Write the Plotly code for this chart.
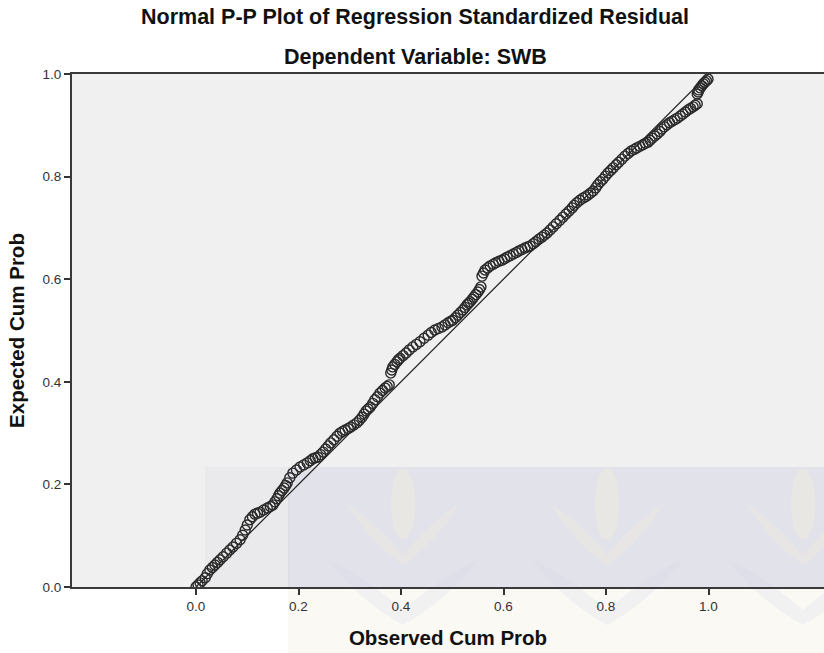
import plotly.graph_objects as go

# Observed cumulative probability (x) and expected cumulative probability (y)
observed = [
    0.000, 0.004, 0.008, 0.012, 0.018, 0.022, 0.027, 0.032, 0.037, 0.042,
    0.047, 0.053, 0.060, 0.066, 0.072, 0.079, 0.086, 0.091, 0.096, 0.100,
    0.105, 0.110, 0.115, 0.120, 0.125, 0.132, 0.139, 0.145, 0.150, 0.154,
    0.158, 0.161, 0.164, 0.168, 0.172, 0.175, 0.178, 0.183, 0.189, 0.196,
    0.203, 0.210, 0.217, 0.223, 0.228, 0.233, 0.238, 0.243, 0.248, 0.253,
    0.258, 0.263, 0.269, 0.275, 0.281, 0.286, 0.291, 0.297, 0.302, 0.308,
    0.314, 0.319, 0.324, 0.328, 0.332, 0.336, 0.340, 0.345, 0.349, 0.354,
    0.359, 0.364, 0.369, 0.373, 0.377,
    0.380, 0.382, 0.384, 0.388, 0.392, 0.395, 0.398, 0.404, 0.410, 0.416,
    0.423, 0.430, 0.437, 0.445, 0.453, 0.459, 0.466, 0.473, 0.480, 0.486,
    0.492, 0.497, 0.501, 0.506, 0.511, 0.516, 0.521, 0.525, 0.529, 0.532,
    0.535, 0.539, 0.542, 0.546, 0.550, 0.553, 0.556,
    0.558, 0.561, 0.564, 0.569, 0.574, 0.580, 0.585, 0.591, 0.597, 0.602,
    0.607, 0.613, 0.619, 0.625, 0.630, 0.636, 0.642, 0.647, 0.652, 0.658,
    0.663, 0.669, 0.675, 0.680, 0.685, 0.691, 0.697, 0.703, 0.710, 0.716,
    0.722, 0.728, 0.734, 0.738, 0.743, 0.749, 0.755, 0.760, 0.765, 0.770,
    0.775, 0.780, 0.784, 0.789, 0.794, 0.799, 0.804, 0.809, 0.814, 0.820,
    0.825, 0.831, 0.837, 0.843, 0.849, 0.855, 0.860, 0.866, 0.872, 0.877,
    0.882, 0.886, 0.890, 0.895, 0.900, 0.905, 0.909, 0.914, 0.919, 0.924,
    0.929, 0.934, 0.939, 0.945, 0.950, 0.955, 0.960, 0.965, 0.970, 0.974,
    0.978,
    0.978, 0.980, 0.981, 0.984, 0.987, 0.990, 0.993, 0.996, 0.999]
expected = [
    0.000, 0.004, 0.008, 0.012, 0.018, 0.026, 0.033, 0.038, 0.043, 0.048,
    0.053, 0.059, 0.066, 0.072, 0.078, 0.085, 0.092, 0.101, 0.111, 0.121,
    0.131, 0.137, 0.142, 0.144, 0.146, 0.150, 0.154, 0.157, 0.160, 0.166,
    0.172, 0.178, 0.183, 0.188, 0.193, 0.198, 0.203, 0.213, 0.222, 0.228,
    0.234, 0.238, 0.242, 0.246, 0.250, 0.252, 0.253, 0.258, 0.263, 0.269,
    0.275, 0.281, 0.287, 0.294, 0.300, 0.303, 0.306, 0.309, 0.312, 0.316,
    0.320, 0.325, 0.331, 0.337, 0.343, 0.347, 0.351, 0.358, 0.365, 0.371,
    0.378, 0.383, 0.388, 0.391, 0.394,
    0.417, 0.423, 0.429, 0.434, 0.439, 0.443, 0.446, 0.451, 0.456, 0.462,
    0.468, 0.473, 0.478, 0.485, 0.491, 0.496, 0.501, 0.504, 0.507, 0.511,
    0.515, 0.518, 0.520, 0.525, 0.530, 0.535, 0.540, 0.545, 0.550, 0.553,
    0.556, 0.561, 0.565, 0.570, 0.575, 0.580, 0.585,
    0.606, 0.612, 0.618, 0.622, 0.626, 0.629, 0.632, 0.635, 0.637, 0.640,
    0.643, 0.646, 0.649, 0.652, 0.655, 0.658, 0.661, 0.663, 0.665, 0.669,
    0.673, 0.678, 0.682, 0.686, 0.690, 0.696, 0.702, 0.708, 0.715, 0.721,
    0.727, 0.733, 0.739, 0.744, 0.749, 0.754, 0.758, 0.761, 0.764, 0.768,
    0.772, 0.778, 0.784, 0.790, 0.795, 0.801, 0.807, 0.812, 0.817, 0.823,
    0.828, 0.834, 0.840, 0.845, 0.850, 0.853, 0.856, 0.859, 0.862, 0.865,
    0.867, 0.871, 0.875, 0.879, 0.883, 0.888, 0.893, 0.897, 0.901, 0.905,
    0.908, 0.911, 0.914, 0.918, 0.922, 0.926, 0.930, 0.933, 0.936, 0.939,
    0.942,
    0.961, 0.965, 0.969, 0.973, 0.977, 0.981, 0.984, 0.987, 0.990]

ref_line = [0.0, 1.0]
tick_vals = [0.0, 0.2, 0.4, 0.6, 0.8, 1.0]
tick_text = ["0.0", "0.2", "0.4", "0.6", "0.8", "1.0"]

title_1 = "Normal P-P Plot of Regression Standardized Residual"
title_2 = "Dependent Variable: SWB"
x_title = "Observed Cum Prob"
y_title = "Expected Cum Prob"

W, H = 824, 653
L, T, B = 72, 74, 66
plot_w = W - L
plot_h = H - T - B


def px(xp):
    return (xp - L) / plot_w


def py(yp):
    return (H - B - yp) / plot_h


FONT = "Liberation Sans, Arial, sans-serif"

fig = go.Figure()

fig.add_trace(go.Scatter(
    x=ref_line, y=ref_line, mode="lines",
    line=dict(color="#222222", width=1.2), hoverinfo="skip", showlegend=False))

fig.add_trace(go.Scatter(
    x=observed, y=expected, mode="markers",
    marker=dict(symbol="circle-open", size=10, color="#2a2a2a",
                line=dict(width=1.4, color="#2a2a2a")),
    showlegend=False))

shapes = []
# faint watermark in the lower right
shapes.append(dict(type="rect", xref="paper", yref="paper", layer="below",
                   x0=px(205), x1=px(290), y0=py(587), y1=py(467),
                   fillcolor="rgba(200,200,215,0.12)", line=dict(width=0)))
shapes.append(dict(type="rect", xref="paper", yref="paper", layer="below",
                   x0=px(288), x1=px(824), y0=py(587), y1=py(467),
                   fillcolor="rgba(195,195,222,0.30)", line=dict(width=0)))
shapes.append(dict(type="rect", xref="paper", yref="paper", layer="below",
                   x0=px(288), x1=px(824), y0=py(653), y1=py(588),
                   fillcolor="rgba(240,235,220,0.30)", line=dict(width=0)))
for cx in [403, 607, 803]:
    shapes.append(dict(type="circle", xref="paper", yref="paper", layer="below",
                       x0=px(cx - 12), x1=px(cx + 12), y0=py(540), y1=py(468),
                       fillcolor="rgba(245,240,215,0.35)", line=dict(width=0)))
    for dx in (-1, 1):
        shapes.append(dict(type="path", xref="paper", yref="paper", layer="below",
                           path=(f"M {px(cx)},{py(555)} "
                                 f"Q {px(cx + dx*30)},{py(520)} {px(cx + dx*55)},{py(505)} "
                                 f"Q {px(cx + dx*35)},{py(540)} {px(cx)},{py(565)} Z"),
                           fillcolor="rgba(245,240,215,0.32)", line=dict(width=0)))
        shapes.append(dict(type="path", xref="paper", yref="paper", layer="below",
                           path=(f"M {px(cx)},{py(610)} "
                                 f"Q {px(cx + dx*40)},{py(575)} {px(cx + dx*75)},{py(560)} "
                                 f"Q {px(cx + dx*45)},{py(600)} {px(cx)},{py(625)} Z"),
                           fillcolor="rgba(215,215,232,0.22)", line=dict(width=0)))

fig.update_layout(
    width=W, height=H,
    margin=dict(l=L, r=0, t=T, b=B, pad=0),
    paper_bgcolor="white",
    plot_bgcolor="#f0f0f0",
    font=dict(family=FONT, color="#222222"),
    shapes=shapes,
    annotations=[
        dict(text=f"<b>{title_1}</b>", xref="paper", yref="paper",
             x=px(415), y=py(17), xanchor="center", yanchor="middle",
             showarrow=False, font=dict(size=21.5, family=FONT, color="#111111")),
        dict(text=f"<b>{title_2}</b>", xref="paper", yref="paper",
             x=px(415), y=py(57), xanchor="center", yanchor="middle",
             showarrow=False, font=dict(size=21.5, family=FONT, color="#111111")),
    ],
    xaxis=dict(
        range=[-124 / 512.5, (W - L - 124) / 512.5],
        tickvals=tick_vals, ticktext=tick_text,
        ticks="outside", ticklen=6, tickwidth=2, tickcolor="#333333",
        showline=True, linecolor="#3a3a3a", linewidth=2, mirror=True,
        showgrid=False, zeroline=False,
        tickfont=dict(size=13.5, family=FONT, color="#333333"),
        title=dict(text=f"<b>{x_title}</b>", standoff=17,
                   font=dict(size=20.5, family=FONT, color="#111111")),
    ),
    yaxis=dict(
        range=[0, 1.0],
        tickvals=tick_vals, ticktext=tick_text,
        ticks="outside", ticklen=6, tickwidth=2, tickcolor="#333333",
        showline=True, linecolor="#3a3a3a", linewidth=2,
        showgrid=False, zeroline=False,
        tickfont=dict(size=13.5, family=FONT, color="#333333"),
        title=dict(text=f"<b>{y_title}</b>", standoff=12,
                   font=dict(size=20.5, family=FONT, color="#111111")),
    ),
)

fig.write_html("out.html")
